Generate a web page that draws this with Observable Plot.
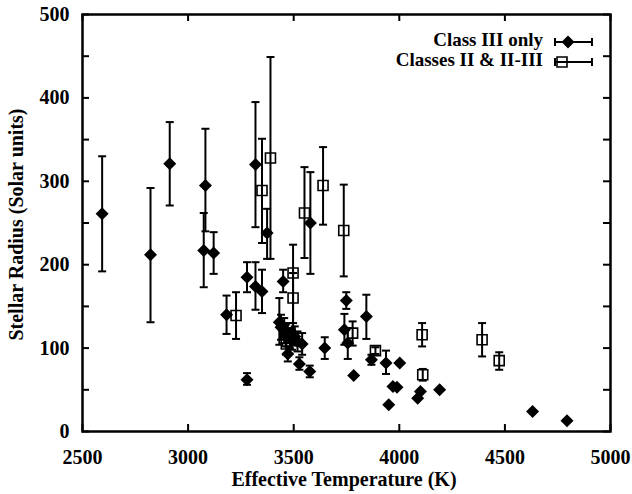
<!DOCTYPE html>
<html><head><meta charset="utf-8">
<script src="https://cdn.jsdelivr.net/npm/d3@7"></script>
<script src="https://cdn.jsdelivr.net/npm/@observablehq/plot@0.6"></script>
<style>
html,body{margin:0;padding:0;background:#fff}
#chart{width:632px;height:494px}
</style>
</head><body><div id="chart"></div>
<script>
// ---- Data ----
// Class III only: effective temperature (K), radius, error low, error high
const class3T  = [2593,2822,2913,3082,3074,3121,3182,3279,3279,3319,3319,3350,3374,3432,3450,3440,3455,3462,3472,3482,3492,3505,3518,3540,3472,3527,3576,3579,3647,3740,3749,3756,3784,3844,3868,3937,3950,3970,3989,4002,4087,4100,4191,4631,4794];
const class3R  = [261,212,321,295,217,214,140,185,62,320,174,168,238,131,180,125,121,115,118,112,110,114,108,105,93,81,72,250,100,122,157,106,67,138,86,82,32,54,53,82,40,48,50,24,13];
const class3Lo = [192,131,271,240,173,189,117,167,56,245,146,142,207,104,167,110,106,102,106,100,98,103,96,92,84,74,65,189,87,104,147,87,null,111,80,69,null,null,null,null,null,null,null,null,null];
const class3Hi = [330,292,371,363,262,239,163,203,70,395,203,194,267,160,194,140,136,128,130,124,122,126,120,118,102,89,79,311,113,141,167,124,null,164,92,97,null,null,null,null,null,null,null,null,null];
// Classes II & II-III
const class2T  = [3227,3350,3390,3465,3497,3497,3551,3639,3737,3779,3887,4108,4111,4392,4473];
const class2R  = [139,289,328,105,190,160,262,295,241,118,97,116,68,110,85];
const class2Lo = [111,226,207,92,130,104,208,248,186,103,93,102,61,90,74];
const class2Hi = [167,351,449,118,224,190,317,341,296,132,101,130,75,130,95];

const xTicks = [2500,3000,3500,4000,4500,5000];
const yTicks = [0,100,200,300,400,500];
const yMinorTicks = [0,50,100,150,200,250,300,350,400,450,500];
const legendLabels = ["Class III only","Classes II & II-III"];
const xTitle = "Effective Temperature (K)";
const yTitle = "Stellar Radius (Solar units)";

const class3 = class3T.map((T,i)=>({T, R:class3R[i], lo:class3Lo[i], hi:class3Hi[i]}));
const class2 = class2T.map((T,i)=>({T, R:class2R[i], lo:class2Lo[i], hi:class2Hi[i]}));
const withErr = a => a.filter(d => d.lo != null && d.hi != null);

// ---- Symbols ----
const diamond = {draw(c){const w=6.5,h=6.5;c.moveTo(0,-h);c.lineTo(w,0);c.lineTo(0,h);c.lineTo(-w,0);c.closePath();}};
const square = {draw(c){const s=5;c.moveTo(-s,-s);c.lineTo(s,-s);c.lineTo(s,s);c.lineTo(-s,s);c.closePath();}};
const cap = {draw(c){c.moveTo(-4,0);c.lineTo(4,0);}};

const W=632,H=494,mL=82,mR=22,mT=14,mB=63;
const fw = W-mL-mR, fh = H-mT-mB, tl = 7;
const font = "'Liberation Serif','Times New Roman',serif";

const errMarks = data => [
  Plot.ruleX(withErr(data), {x:"T", y1:"lo", y2:"hi", stroke:"black", strokeWidth:2}),
  Plot.dot(withErr(data), {x:"T", y:"lo", symbol:cap, stroke:"black", fill:"none", strokeWidth:2}),
  Plot.dot(withErr(data), {x:"T", y:"hi", symbol:cap, stroke:"black", fill:"none", strokeWidth:2})
];

const chart = Plot.plot({
  width: W, height: H,
  marginLeft: mL, marginRight: mR, marginTop: mT, marginBottom: mB,
  style: {fontFamily: font, fontSize: "20px", fontWeight: "bold", color: "black", background: "white", overflow: "visible"},
  x: {domain: [2500, 5000], ticks: xTicks, tickSize: 0, tickPadding: 18, tickFormat: d => String(d), label: null},
  y: {domain: [0, 500], ticks: yTicks, tickSize: 0, tickPadding: 13, tickFormat: d => String(d), label: null},
  marks: [
    // inward tick marks on all four sides
    Plot.ruleX(xTicks, {x: d => d, insetTop: fh - tl, stroke: "black", strokeWidth: 2}),
    Plot.ruleX(xTicks, {x: d => d, insetBottom: fh - tl, stroke: "black", strokeWidth: 2}),
    Plot.ruleY(yMinorTicks, {y: d => d, insetRight: fw - tl, stroke: "black", strokeWidth: 2}),
    Plot.ruleY(yMinorTicks, {y: d => d, insetLeft: fw - tl, stroke: "black", strokeWidth: 2}),
    ...errMarks(class3),
    ...errMarks(class2),
    Plot.dot(class3, {x:"T", y:"R", symbol: diamond, fill:"black", stroke:"none"}),
    Plot.dot(class2, {x:"T", y:"R", symbol: square, fill:"none", stroke:"black", strokeWidth:1.6}),
    Plot.frame({stroke:"black", strokeWidth: 2.5})
  ]
});
document.getElementById("chart").appendChild(chart);

// ---- Titles and legend ----
const svg = d3.select(chart);
svg.append("text").attr("x", mL + fw/2 - 2).attr("y", 481).attr("text-anchor","middle").attr("dominant-baseline","middle")
  .attr("font-family", font).attr("font-size", 20).attr("font-weight","bold").attr("fill","black").text(xTitle);
svg.append("text").attr("transform", `translate(18,${mT + fh/2 + 2}) rotate(-90)`).attr("text-anchor","middle").attr("dominant-baseline","middle")
  .attr("font-family", font).attr("font-size", 20).attr("font-weight","bold").attr("fill","black").text(yTitle);

const lg = svg.append("g");
const rows = [{y:42, sym:"diamond", sx:568}, {y:62, sym:"square", sx:562}];
rows.forEach((r,i) => {
  lg.append("text").attr("x", 543).attr("y", r.y).attr("text-anchor","end").attr("dominant-baseline","middle")
    .attr("font-family", font).attr("font-size", 19).attr("font-weight","bold").attr("fill","black").text(legendLabels[i]);
  lg.append("line").attr("x1",555).attr("x2",592).attr("y1",r.y).attr("y2",r.y).attr("stroke","black").attr("stroke-width",2);
  lg.append("line").attr("x1",555).attr("x2",555).attr("y1",r.y-4).attr("y2",r.y+4).attr("stroke","black").attr("stroke-width",2);
  lg.append("line").attr("x1",592).attr("x2",592).attr("y1",r.y-4).attr("y2",r.y+4).attr("stroke","black").attr("stroke-width",2);
  if (r.sym === "diamond") {
    lg.append("path").attr("transform",`translate(${r.sx},${r.y})`).attr("d", d3.symbol(diamond)()).attr("fill","black");
  } else {
    lg.append("path").attr("transform",`translate(${r.sx},${r.y})`).attr("d", d3.symbol(square)()).attr("fill","none").attr("stroke","black").attr("stroke-width",1.6);
  }
});
</script>
</body></html>
